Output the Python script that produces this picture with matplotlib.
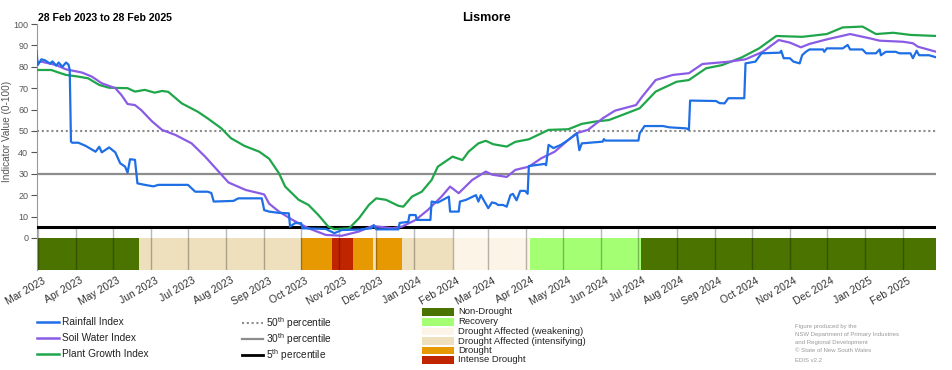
import matplotlib
matplotlib.use("Agg")
import matplotlib.pyplot as plt
import matplotlib.transforms as mtransforms
import pandas as pd
from matplotlib.lines import Line2D
from matplotlib.patches import Rectangle

plt.rcParams['font.family'] = ['Liberation Sans', 'DejaVu Sans']
plt.rcParams['mathtext.fontset'] = 'custom'
plt.rcParams['mathtext.rm'] = 'Liberation Sans'

# ---------------- data ----------------
rain_dates = ["2023-02-28", "2023-03-01", "2023-03-04", "2023-03-07", "2023-03-11", "2023-03-13",
              "2023-03-16", "2023-03-18", "2023-03-21", "2023-03-24", "2023-03-26", "2023-03-27",
              "2023-03-28", "2023-03-29", "2023-04-03", "2023-04-09", "2023-04-17", "2023-04-20",
              "2023-04-22", "2023-04-28", "2023-05-03", "2023-05-07", "2023-05-11", "2023-05-13",
              "2023-05-15", "2023-05-19", "2023-05-21", "2023-05-27", "2023-06-03", "2023-06-07",
              "2023-07-01", "2023-07-04", "2023-07-07", "2023-07-17", "2023-07-20", "2023-07-22",
              "2023-08-07", "2023-08-11", "2023-08-30", "2023-09-01", "2023-09-05", "2023-09-13",
              "2023-09-21", "2023-09-22", "2023-09-26", "2023-10-01", "2023-10-02", "2023-10-21",
              "2023-10-28", "2023-11-03", "2023-11-17", "2023-11-27", "2023-11-29", "2023-12-01",
              "2023-12-19", "2023-12-20", "2023-12-27", "2023-12-28", "2024-01-02", "2024-01-03",
              "2024-01-14", "2024-01-15", "2024-01-20", "2024-01-29", "2024-01-30", "2024-02-06",
              "2024-02-07", "2024-02-12", "2024-02-20", "2024-02-22", "2024-02-24", "2024-03-01",
              "2024-03-04", "2024-03-07", "2024-03-09", "2024-03-13", "2024-03-16", "2024-03-19",
              "2024-03-21", "2024-03-24", "2024-03-27", "2024-03-31", "2024-04-02", "2024-04-03",
              "2024-04-16", "2024-04-17", "2024-04-19", "2024-04-23", "2024-04-29", "2024-05-05",
              "2024-05-11", "2024-05-12", "2024-05-14", "2024-05-16", "2024-06-02", "2024-06-03",
              "2024-06-04", "2024-07-01", "2024-07-02", "2024-07-06", "2024-07-21", "2024-07-26",
              "2024-08-09", "2024-08-11", "2024-08-12", "2024-09-02", "2024-09-05", "2024-09-09",
              "2024-09-12", "2024-09-25", "2024-09-26", "2024-10-04", "2024-10-09", "2024-10-24",
              "2024-10-25", "2024-10-27", "2024-11-01", "2024-11-04", "2024-11-09", "2024-11-11",
              "2024-11-14", "2024-11-17", "2024-11-28", "2024-11-29", "2024-12-01", "2024-12-14",
              "2024-12-18", "2024-12-20", "2024-12-30", "2025-01-02", "2025-01-10", "2025-01-13",
              "2025-01-14", "2025-01-18", "2025-01-26", "2025-01-29", "2025-02-07", "2025-02-09",
              "2025-02-12", "2025-02-14", "2025-02-22", "2025-02-28"]
rain_values = [87.5, 80.8, 83.5, 83.0, 81.5, 82.5,
               80.5, 82.0, 80.0, 82.0, 81.0, 78.5,
               45.0, 44.5, 44.5, 43.0, 40.3, 42.6,
               40.0, 42.3, 40.0, 34.9, 33.3, 30.5,
               36.8, 36.5, 25.5, 24.8, 24.1, 24.8,
               24.8, 23.2, 21.6, 21.6, 21.0, 17.0,
               17.3, 18.5, 18.5, 13.0, 12.3, 11.7,
               11.5, 5.3, 6.9, 6.9, 4.5, 4.2,
               2.2, 3.7, 3.9, 4.5, 6.0, 4.0,
               4.0, 7.0, 7.5, 10.7, 10.7, 8.4,
               8.4, 17.0, 16.5, 19.3, 12.3, 12.3,
               17.0, 17.8, 20.0, 17.0, 20.0, 13.9,
               16.6, 16.2, 15.4, 15.4, 14.6, 20.0,
               20.6, 17.6, 22.0, 22.0, 20.6, 33.6,
               34.6, 34.0, 43.5, 42.0, 43.5, 45.8,
               48.6, 49.0, 41.0, 44.2, 45.0, 46.2,
               45.5, 45.5, 48.9, 52.3, 52.3, 51.7,
               51.2, 50.5, 64.2, 64.0, 63.0, 62.9,
               65.3, 65.3, 81.6, 82.4, 86.3, 86.6,
               87.5, 84.0, 84.0, 82.4, 81.6, 85.4,
               87.0, 88.1, 88.1, 87.0, 88.6, 88.6,
               90.2, 88.1, 88.1, 86.3, 86.3, 88.1,
               85.4, 87.0, 87.0, 86.3, 86.3, 84.0,
               87.5, 85.4, 85.4, 84.4]

soil_dates = ["2023-02-28", "2023-03-04", "2023-03-16", "2023-03-24", "2023-04-06", "2023-04-14",
              "2023-04-22", "2023-05-03", "2023-05-08", "2023-05-13", "2023-05-19", "2023-05-24",
              "2023-06-02", "2023-06-10", "2023-06-21", "2023-07-04", "2023-07-15", "2023-07-26",
              "2023-08-03", "2023-08-17", "2023-08-28", "2023-09-01", "2023-09-05", "2023-09-13",
              "2023-09-24", "2023-10-07", "2023-10-21", "2023-11-03", "2023-11-17", "2023-11-28",
              "2023-12-14", "2023-12-22", "2024-01-02", "2024-01-12", "2024-01-23", "2024-01-30",
              "2024-02-06", "2024-02-17", "2024-02-28", "2024-03-04", "2024-03-16", "2024-03-23",
              "2024-04-03", "2024-04-13", "2024-04-24", "2024-05-05", "2024-05-13", "2024-05-21",
              "2024-06-02", "2024-06-12", "2024-06-29", "2024-07-04", "2024-07-15", "2024-07-29",
              "2024-08-11", "2024-08-22", "2024-09-13", "2024-09-26", "2024-10-10", "2024-10-23",
              "2024-11-01", "2024-11-10", "2024-11-17", "2024-12-01", "2024-12-20", "2025-01-05",
              "2025-01-13", "2025-02-01", "2025-02-09", "2025-02-13", "2025-02-28"]
soil_values = [81.9, 82.4, 80.8, 78.8, 77.3, 75.4,
               72.3, 70.0, 66.8, 62.6, 62.1, 59.8,
               54.4, 50.5, 48.1, 44.2, 38.0, 31.0,
               25.9, 22.4, 20.9, 20.3, 16.0, 12.3,
               8.4, 4.5, 1.4, 1.0, 3.0, 5.6,
               4.5, 5.3, 8.4, 13.1, 19.3, 24.0,
               20.9, 27.1, 31.0, 29.6, 28.5, 31.8,
               33.3, 37.2, 40.3, 45.8, 49.2, 50.5,
               55.9, 59.5, 62.1, 66.0, 73.8, 76.2,
               77.0, 81.3, 82.4, 83.5, 87.0, 92.5,
               91.3, 89.1, 90.7, 92.8, 95.3, 93.3,
               92.2, 91.7, 91.0, 89.4, 87.0]

plant_dates = ["2023-02-28", "2023-03-12", "2023-03-18", "2023-03-24", "2023-04-03", "2023-04-11",
               "2023-04-20", "2023-04-28", "2023-05-13", "2023-05-19", "2023-05-27", "2023-06-04",
               "2023-06-10", "2023-06-15", "2023-06-26", "2023-07-09", "2023-07-17", "2023-07-28",
               "2023-08-05", "2023-08-16", "2023-08-28", "2023-09-05", "2023-09-13", "2023-09-18",
               "2023-09-29", "2023-10-07", "2023-10-15", "2023-10-23", "2023-10-28", "2023-11-09",
               "2023-11-17", "2023-11-25", "2023-12-01", "2023-12-09", "2023-12-19", "2023-12-23",
               "2023-12-30", "2024-01-07", "2024-01-15", "2024-01-20", "2024-02-01", "2024-02-09",
               "2024-02-14", "2024-02-22", "2024-02-28", "2024-03-05", "2024-03-16", "2024-03-23",
               "2024-04-03", "2024-04-19", "2024-05-05", "2024-05-16", "2024-05-27", "2024-06-07",
               "2024-06-18", "2024-07-02", "2024-07-15", "2024-08-01", "2024-08-11", "2024-08-25",
               "2024-09-07", "2024-09-23", "2024-10-07", "2024-10-21", "2024-11-11", "2024-12-01",
               "2024-12-14", "2024-12-30", "2025-01-10", "2025-01-24", "2025-02-07", "2025-02-28"]
plant_values = [78.5, 78.5, 77.3, 76.2, 75.4, 74.6,
                71.5, 70.2, 70.0, 68.4, 69.2, 67.9,
                68.7, 68.3, 62.9, 59.0, 55.9, 51.3,
                46.6, 43.0, 40.3, 37.0, 30.2, 24.0,
                17.8, 15.4, 10.7, 5.3, 4.1, 4.5,
                9.2, 15.4, 18.5, 17.8, 15.0, 14.6,
                19.3, 21.6, 27.1, 33.3, 38.0, 36.4,
                40.3, 44.2, 45.4, 43.8, 42.7, 44.9,
                46.1, 50.5, 50.8, 53.3, 54.4, 55.1,
                57.5, 60.6, 68.4, 73.0, 73.8, 79.3,
                80.8, 84.4, 88.6, 94.4, 94.0, 95.3,
                98.4, 98.8, 95.3, 95.9, 94.9, 94.4]

status_starts = ["2023-02-28", "2023-05-22", "2023-10-01", "2023-10-26", "2023-11-12", "2023-11-28",
                 "2023-12-01", "2023-12-22", "2024-02-01", "2024-04-04", "2024-07-03"]
status_ends = ["2023-05-22", "2023-10-01", "2023-10-26", "2023-11-12", "2023-11-28", "2023-12-01",
               "2023-12-22", "2024-02-01", "2024-04-04", "2024-07-03", "2025-02-28"]
status_class = ["Non-Drought", "Drought Affected (intensifying)", "Drought", "Intense Drought", "Drought",
                "Drought Affected (intensifying)", "Drought", "Drought Affected (intensifying)",
                "Drought Affected (weakening)", "Recovery", "Non-Drought"]

status_labels = ["Non-Drought", "Recovery", "Drought Affected (weakening)",
                 "Drought Affected (intensifying)", "Drought", "Intense Drought"]
status_colors = ["#4a7300", "#a5ff73", "#fdf4e8", "#eee0bd", "#e69900", "#c02500"]

series_labels = ["Rainfall Index", "Soil Water Index", "Plant Growth Index"]
series_colors = ["#1e6fe6", "#8a5ce6", "#1fa64a"]

pct_values = [50, 30, 5]
pct_labels = ["50$^{\\mathregular{th}}$ percentile", "30$^{\\mathregular{th}}$ percentile",
              "5$^{\\mathregular{th}}$ percentile"]

title = "Lismore"
subtitle = "28 Feb 2023 to 28 Feb 2025"
ylabel = "Indicator Value (0-100)"
credits = ["Figure produced by the", "NSW Department of Primary Industries",
           "and Regional Development", "\u00a9 State of New South Wales", "EDIS v2.2"]

# ---------------- figure ----------------
W, H = 952, 370
fig = plt.figure(figsize=(W / 100, H / 100), dpi=100)
ax = fig.add_axes([36.5 / W, 1 - 270 / H, (936.3 - 36.5) / W, (270 - 24) / H])

x0 = pd.Timestamp("2023-02-28")
x1 = pd.Timestamp("2025-02-28")
ax.set_xlim(x0, x1)
ax.set_ylim(-15, 100)

cmap = dict(zip(status_labels, status_colors))
for s, e, c in zip(status_starts, status_ends, status_class):
    ax.axvspan(pd.Timestamp(s), pd.Timestamp(e), ymin=0, ymax=15 / 115,
               color=cmap[c], lw=0, zorder=1)

months = pd.date_range("2023-03-01", "2025-02-01", freq="MS")
ax.vlines(months, -15, 5, color="k", alpha=0.28, lw=1, zorder=2)

# percentile lines
ax.axhline(pct_values[0], color="#8c8c8c", lw=1.5, ls=(0, (1, 1.3)), zorder=3)
ax.axhline(pct_values[1], color="#8c8c8c", lw=1.6, zorder=3)
ax.axhline(pct_values[2], color="black", lw=2.2, zorder=3)

LW = 1.6
ax.plot(pd.to_datetime(plant_dates), plant_values, color=series_colors[2], lw=LW, zorder=4)
ax.plot(pd.to_datetime(soil_dates), soil_values, color=series_colors[1], lw=LW, zorder=5)
ax.plot(pd.to_datetime(rain_dates), rain_values, color=series_colors[0], lw=LW, zorder=6)

ax.set_yticks(range(0, 101, 10))
ax.tick_params(axis="y", labelsize=6.5, colors="#555555", length=4, width=0.8, pad=2)
ax.set_xticks(months)
ax.set_xticklabels([m.strftime("%b %Y") for m in months], rotation=30, ha="right",
                   rotation_mode="anchor", fontsize=7.5, color="#333333")
ax.tick_params(axis="x", length=0, pad=4)
offset = mtransforms.ScaledTranslation(4 / 100, 0, fig.dpi_scale_trans)
for lbl in ax.get_xticklabels():
    lbl.set_transform(lbl.get_transform() + offset)
for sp in ["top", "right", "bottom"]:
    ax.spines[sp].set_visible(False)
ax.spines["left"].set_color("#999999")
ax.spines["left"].set_linewidth(0.8)
ax.set_ylabel(ylabel, fontsize=7.2, color="#555555")
ax.yaxis.set_label_coords(-0.027, (270 - 131) / 246)

ax.set_title(title, fontsize=9, fontweight="bold", pad=0, y=1 + (24 - 15) / 246 - 0.025)
fig.text(37.5 / W, 1 - 18 / H, subtitle, fontsize=7.6, fontweight="bold", va="center", ha="left")

# ---------------- legends ----------------
ly = [321.7, 337.7, 354.0]
for lab, col, y in zip(series_labels, series_colors, ly):
    fig.add_artist(Line2D([37 / W, 59 / W], [1 - y / H] * 2, color=col, lw=1.8))
    fig.text(62 / W, 1 - y / H, lab, fontsize=7.3, va="center", ha="left", color="#222222")

pstyles = [dict(color="#8c8c8c", lw=1.5, ls=(0, (1, 1.3))),
           dict(color="#8c8c8c", lw=1.6),
           dict(color="black", lw=2.0)]
py = [322.7, 338.7, 354.7]
for lab, st, y in zip(pct_labels, pstyles, py):
    fig.add_artist(Line2D([242 / W, 263 / W], [1 - y / H] * 2, **st))
    fig.text(265.7 / W, 1 - y / H, lab, fontsize=7.3, va="center", ha="left", color="#222222")

sy = [312.0, 322.0, 331.7, 341.0, 350.3, 360.0]
for lab, col, y in zip(status_labels, status_colors, sy):
    fig.add_artist(Rectangle((421.7 / W, 1 - (y + 3.7) / H), (454 - 421.7) / W, 7.4 / H,
                             transform=fig.transFigure, color=col, lw=0))
    fig.text(458.3 / W, 1 - y / H, lab, fontsize=6.8, va="center", ha="left", color="#222222")

cy = [326.7, 334.7, 342.7, 351.0, 360.0]
for txt, y in zip(credits, cy):
    fig.text(795 / W, 1 - y / H, txt, fontsize=4.3, va="center", ha="left", color="#999999")

fig.savefig("out.png", dpi=100)
